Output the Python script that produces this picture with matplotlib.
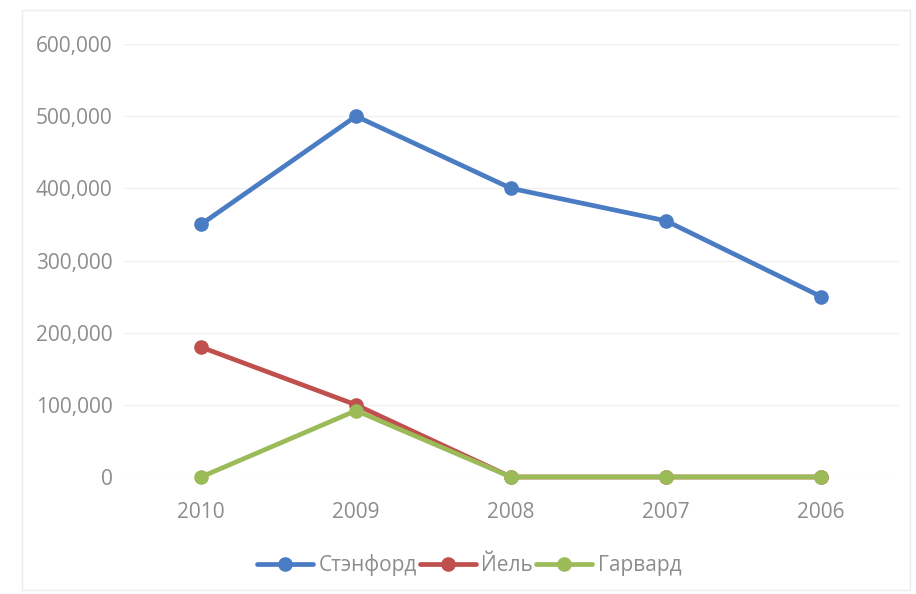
import matplotlib.pyplot as plt
from matplotlib.patches import Rectangle
from matplotlib.ticker import FuncFormatter

years = ["2010", "2009", "2008", "2007", "2006"]
stanford = [350000, 500000, 400000, 355000, 250000]
yale = [180000, 100000, 0, 0, 0]
harvard = [0, 92000, 0, 0, 0]
y_ticks = [0, 100000, 200000, 300000, 400000, 500000, 600000]

plt.rcParams['font.family'] = ['Open Sans', 'DejaVu Sans']
txt_color = '#8c8c8c'

fig = plt.figure(figsize=(9.16, 5.94), dpi=100)
fig.patches.append(Rectangle((22/916, 4/594), 888/916, 580/594, transform=fig.transFigure,
                             fill=False, edgecolor='#ececec', linewidth=1))
ax = fig.add_axes([123.5/916, 1 - 477/594, 775/916, 433/594])

x = list(range(len(years)))
series = [(stanford, '#4a7cc4', 'Стэнфорд'),
          (yale, '#c0504d', 'Йель'),
          (harvard, '#9bbb59', 'Гарвард')]
for vals, col, name in series:
    ax.plot(x, vals, color=col, lw=3.4, marker='o', ms=9.5, label=name,
            solid_capstyle='round', clip_on=False)

ax.set_xlim(-0.5, len(years) - 0.5)
ax.set_ylim(0, 600000)
ax.set_yticks(y_ticks)
ax.yaxis.set_major_formatter(FuncFormatter(lambda v, p: f"{int(v):,}"))
ax.set_xticks(x)
ax.set_xticklabels(years)
ax.grid(axis='y', color='#f0f0f0', lw=1)
ax.set_axisbelow(True)
for s in ax.spines.values():
    s.set_visible(False)
ax.tick_params(length=0, labelsize=15, colors=txt_color)
ax.tick_params(axis='x', pad=18)
ax.tick_params(axis='y', pad=8)

leg = fig.legend(loc='center', bbox_to_anchor=(469/916, 1 - 565/594), ncol=3,
                 frameon=False, fontsize=15, handlelength=2.7, columnspacing=0.15,
                 handletextpad=0.25, labelcolor=txt_color)

fig.savefig('out.png', dpi=100)
